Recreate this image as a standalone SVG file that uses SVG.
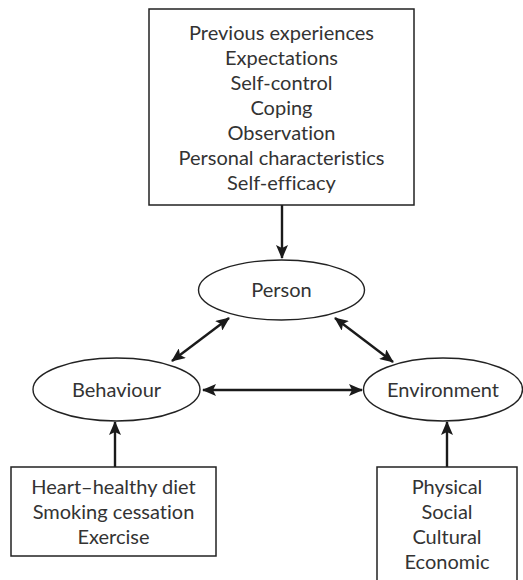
<svg xmlns="http://www.w3.org/2000/svg" width="523" height="580" viewBox="0 0 523 580">
<style>
.box{fill:#fff;stroke:#222;stroke-width:1.5}
.ell{fill:#fff;stroke:#222;stroke-width:1.4}
.t{font-family:Lato,"Open Sans","Liberation Sans",sans-serif;font-size:20px;fill:#333;text-anchor:middle;font-variant-ligatures:none;font-feature-settings:"liga" 0}
.c{stroke:#1a1a1a;stroke-width:2.4;fill:none}
</style>
<defs>
<marker id="ah" viewBox="0 0 14 12" refX="13" refY="6" markerWidth="14" markerHeight="12" markerUnits="userSpaceOnUse" orient="auto-start-reverse">
<path d="M0,0 L14,6 L0,12 L3,6 z" fill="#1a1a1a"/>
</marker>
</defs>
<rect width="523" height="580" fill="#fff"/>
<g id="connectors">
<line class="c" x1="282" y1="205" x2="282" y2="258" marker-end="url(#ah)"/>
<line class="c" x1="172" y1="361" x2="229" y2="318" marker-start="url(#ah)" marker-end="url(#ah)"/>
<line class="c" x1="335" y1="318" x2="393" y2="362" marker-start="url(#ah)" marker-end="url(#ah)"/>
<line class="c" x1="203" y1="390" x2="362" y2="390" marker-start="url(#ah)" marker-end="url(#ah)"/>
<line class="c" x1="115" y1="467" x2="115" y2="422" marker-end="url(#ah)"/>
<line class="c" x1="447" y1="468" x2="447" y2="422" marker-end="url(#ah)"/>
</g>
<g id="person-factors">
<rect class="box" x="149" y="9" width="265" height="196"/>
<text class="t" x="281.5" y="40">Previous experiences</text>
<text class="t" x="281.5" y="65">Expectations</text>
<text class="t" x="281.5" y="90">Self-control</text>
<text class="t" x="281.5" y="115">Coping</text>
<text class="t" x="281.5" y="140">Observation</text>
<text class="t" x="281.5" y="165">Personal characteristics</text>
<text class="t" x="281.5" y="190">Self-efficacy</text>
</g>
<g id="person">
<ellipse class="ell" cx="281.5" cy="290" rx="83" ry="30"/>
<text class="t" x="281.5" y="297">Person</text>
</g>
<g id="behaviour">
<ellipse class="ell" cx="116.5" cy="389.5" rx="83.5" ry="31.5"/>
<text class="t" x="116.5" y="397">Behaviour</text>
</g>
<g id="environment">
<ellipse class="ell" cx="443" cy="389.5" rx="79.5" ry="31.5"/>
<text class="t" x="443" y="397">Environment</text>
</g>
<g id="behaviour-factors">
<rect class="box" x="11" y="467" width="205" height="89"/>
<text class="t" x="113.5" y="494">Heart–healthy diet</text>
<text class="t" x="113.5" y="519">Smoking cessation</text>
<text class="t" x="113.5" y="544">Exercise</text>
</g>
<g id="environment-factors">
<path class="box" d="M377,582 L377,467 L517,467 L517,582"/>
<text class="t" x="447" y="494">Physical</text>
<text class="t" x="447" y="519">Social</text>
<text class="t" x="447" y="544">Cultural</text>
<text class="t" x="447" y="569">Economic</text>
</g>
</svg>
